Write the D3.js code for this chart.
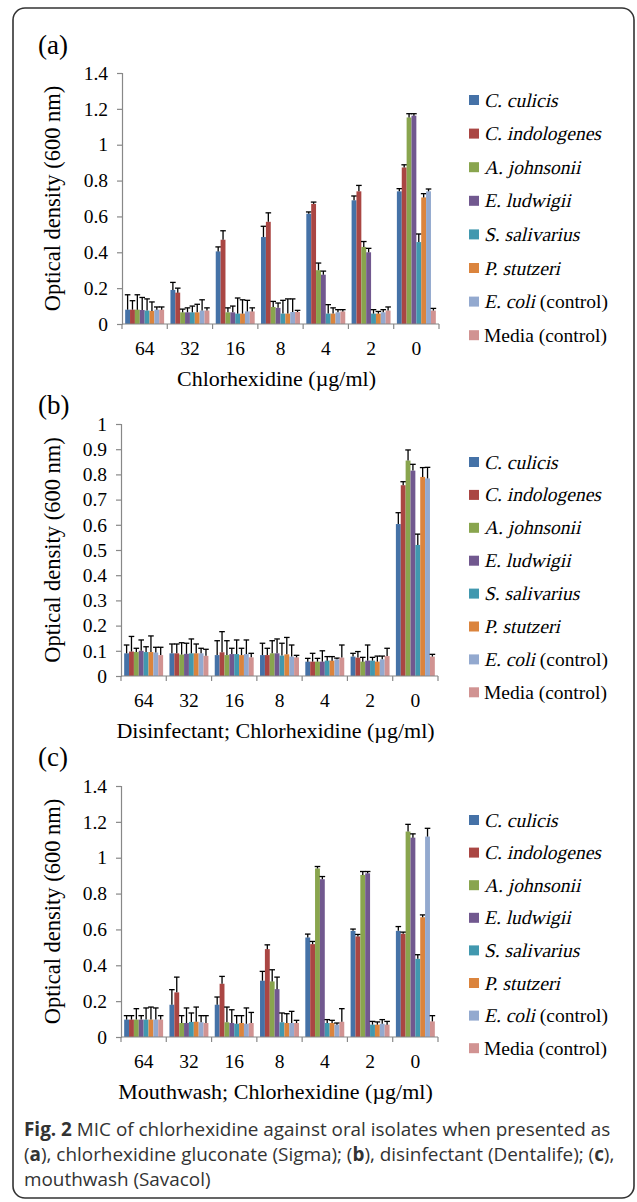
<!DOCTYPE html>
<meta charset="utf-8">
<script src="https://d3js.org/d3.v7.min.js"></script>
<style>
  body { margin: 0; background: #fff; }
  text, tspan { font-family: "Liberation Serif", "Times New Roman", serif; fill: #000; }
  text.cap, text.cap tspan { font-family: "Open Sans", sans-serif; fill: #333; font-size: 18.9px; }
</style>
<div id="fig"></div>
<script>

var categories = ["64", "32", "16", "8", "4", "2", "0"]
var series = ["C. culicis", "C. indologenes", "A. johnsonii", "E. ludwigii", "S. salivarius", "P. stutzeri", "E. coli", "Media"]
var colors = ["#4572A7", "#AA4643", "#89A54E", "#71588F", "#4198AF", "#DB843D", "#93A9CF", "#D19392"]

// (a) chlorhexidine gluconate
var valuesA = [
  [0.08, 0.19, 0.405, 0.485, 0.615, 0.69, 0.74],
  [0.08, 0.175, 0.47, 0.57, 0.67, 0.74, 0.873],
  [0.08, 0.065, 0.065, 0.095, 0.3, 0.43, 1.152],
  [0.078, 0.065, 0.065, 0.09, 0.275, 0.4, 1.162],
  [0.075, 0.065, 0.058, 0.058, 0.058, 0.058, 0.457],
  [0.073, 0.065, 0.058, 0.058, 0.058, 0.058, 0.706],
  [0.08, 0.075, 0.07, 0.067, 0.065, 0.065, 0.74],
  [0.08, 0.075, 0.07, 0.067, 0.07, 0.075, 0.075]
]
var errorsA = [
  [0.083, 0.042, 0.025, 0.06, 0.01, 0.024, 0.015],
  [0.05, 0.025, 0.05, 0.05, 0.01, 0.033, 0.015],
  [0.083, 0.018, 0.025, 0.031, 0.04, 0.03, 0.021],
  [0.07, 0.025, 0.035, 0.027, 0.02, 0.022, 0.011],
  [0.065, 0.035, 0.087, 0.074, 0.05, 0.022, 0.045],
  [0.05, 0.045, 0.077, 0.082, 0.032, 0.012, 0.021],
  [0.015, 0.06, 0.062, 0.073, 0.015, 0.015, 0.013],
  [0.015, 0.015, 0.02, 0.009, 0.01, 0.02, 0.012]
]

// (b) disinfectant
var valuesB = [
  [0.09, 0.09, 0.083, 0.083, 0.057, 0.077, 0.603],
  [0.097, 0.09, 0.094, 0.083, 0.057, 0.073, 0.757],
  [0.095, 0.085, 0.083, 0.09, 0.057, 0.057, 0.855],
  [0.1, 0.088, 0.087, 0.09, 0.057, 0.061, 0.815],
  [0.095, 0.09, 0.087, 0.081, 0.061, 0.061, 0.52],
  [0.095, 0.09, 0.083, 0.086, 0.061, 0.057, 0.79],
  [0.093, 0.09, 0.087, 0.077, 0.066, 0.066, 0.784],
  [0.083, 0.08, 0.074, 0.074, 0.073, 0.079, 0.077]
]
var errorsB = [
  [0.033, 0.037, 0.057, 0.047, 0.013, 0.013, 0.045],
  [0.06, 0.037, 0.082, 0.027, 0.033, 0.024, 0.014],
  [0.015, 0.047, 0.057, 0.05, 0.013, 0.017, 0.042],
  [0.043, 0.042, 0.023, 0.057, 0.043, 0.062, 0.025],
  [0.021, 0.057, 0.056, 0.049, 0.016, 0.013, 0.043],
  [0.064, 0.037, 0.027, 0.067, 0.016, 0.022, 0.037],
  [0.021, 0.02, 0.056, 0.046, 0.005, 0.013, 0.044],
  [0.031, 0.026, 0.016, 0.008, 0.05, 0.031, 0.009]
]

// (c) mouthwash
var valuesC = [
  [0.097, 0.18, 0.18, 0.314, 0.555, 0.592, 0.592],
  [0.097, 0.249, 0.297, 0.49, 0.518, 0.561, 0.576],
  [0.097, 0.078, 0.082, 0.31, 0.94, 0.904, 1.146],
  [0.097, 0.078, 0.078, 0.267, 0.88, 0.913, 1.112],
  [0.097, 0.084, 0.074, 0.082, 0.078, 0.069, 0.436],
  [0.097, 0.085, 0.078, 0.078, 0.078, 0.069, 0.668],
  [0.097, 0.082, 0.074, 0.078, 0.069, 0.074, 1.118],
  [0.097, 0.078, 0.078, 0.078, 0.085, 0.069, 0.087]
]
var errorsC = [
  [0.022, 0.084, 0.043, 0.052, 0.019, 0.01, 0.024],
  [0.022, 0.085, 0.041, 0.024, 0.015, 0.011, 0.009],
  [0.061, 0.041, 0.085, 0.065, 0.011, 0.019, 0.04],
  [0.022, 0.084, 0.074, 0.067, 0.015, 0.01, 0.021],
  [0.065, 0.05, 0.045, 0.052, 0.019, 0.018, 0.023],
  [0.07, 0.082, 0.041, 0.052, 0.015, 0.015, 0.013],
  [0.065, 0.037, 0.088, 0.065, 0.009, 0.023, 0.046],
  [0.022, 0.041, 0.059, 0.015, 0.073, 0.018, 0.032]
]

var ticksA = [0, 0.2, 0.4, 0.6, 0.8, 1, 1.2, 1.4]
var ticksB = [0, 0.1, 0.2, 0.3, 0.4, 0.5, 0.6, 0.7, 0.8, 0.9, 1]

var W = 637, H = 1202

var svg = d3.select("#fig").append("svg")
  .attr("width", W).attr("height", H)

// outer frame
svg.append("rect")
  .attr("x", 13).attr("y", 8).attr("width", 621).attr("height", 1190)
  .attr("rx", 12).attr("ry", 12)
  .attr("fill", "none").attr("stroke", "#333").attr("stroke-width", 1.6)

var panels = [
  { label: "(a)", values: valuesA, errors: errorsA, max: 1.4, ticks: ticksA,
    top: 73, bottom: 324, left: 122, right: 439, labelY: 54,
    xtitle: "Chlorhexidine (µg/ml)", legendY: 100, legendStep: 33.6 },
  { label: "(b)", values: valuesB, errors: errorsB, max: 1, ticks: ticksB,
    top: 424, bottom: 676, left: 121, right: 438, labelY: 414,
    xtitle: "Disinfectant; Chlorhexidine (µg/ml)", legendY: 462, legendStep: 32.9 },
  { label: "(c)", values: valuesC, errors: errorsC, max: 1.4, ticks: ticksA,
    top: 786, bottom: 1037, left: 121, right: 438, labelY: 766,
    xtitle: "Mouthwash; Chlorhexidine (µg/ml)", legendY: 820, legendStep: 32.6 }
]

panels.forEach(function(p) {
  var g = svg.append("g")

  var y = d3.scaleLinear().domain([0, p.max]).range([p.bottom, p.top])
  var x0 = d3.scaleBand().domain(categories).range([p.left, p.right]).padding(0)
  var bw = x0.bandwidth()
  var x1 = d3.scaleBand().domain(d3.range(series.length))
    .range([bw * 0.07, bw * 0.93]).padding(0)

  g.append("text").attr("x", 38).attr("y", p.labelY)
    .style("font-size", "27px").text(p.label)

  // y axis
  var ya = g.append("g").attr("transform", "translate(" + p.left + ",0)")
    .call(d3.axisLeft(y).tickValues(p.ticks).tickSize(5).tickPadding(9)
      .tickFormat(function(d) { return d3.format("")(+d.toFixed(2)) }))
  ya.select(".domain").attr("stroke", "#888").attr("stroke-width", 1.2)
  ya.selectAll(".tick line").attr("stroke", "#888").attr("stroke-width", 1.2)
  ya.selectAll(".tick text").style("font-size", "19.5px")
    .style("font-family", "Liberation Serif").attr("fill", "#000")

  g.append("text")
    .attr("transform", "translate(60," + ((p.top + p.bottom) / 2) + ") rotate(-90)")
    .attr("text-anchor", "middle").style("font-size", "22.5px")
    .text("Optical density (600 nm)")

  // bars
  series.forEach(function(s, i) {
    var sg = g.append("g")
    sg.selectAll("rect").data(categories).enter().append("rect")
      .attr("x", function(c) { return x0(c) + x1(i) })
      .attr("y", function(c, j) { return y(p.values[i][j]) })
      .attr("width", x1.bandwidth())
      .attr("height", function(c, j) { return p.bottom - y(p.values[i][j]) })
      .attr("fill", colors[i])

    var eg = g.append("g").attr("stroke", "#000").attr("stroke-width", 1.3)
    eg.selectAll("line.v").data(categories).enter().append("line")
      .attr("x1", function(c) { return x0(c) + x1(i) + x1.bandwidth() / 2 })
      .attr("x2", function(c) { return x0(c) + x1(i) + x1.bandwidth() / 2 })
      .attr("y1", function(c, j) { return y(p.values[i][j]) })
      .attr("y2", function(c, j) { return y(p.values[i][j] + p.errors[i][j]) })
    eg.selectAll("line.h").data(categories).enter().append("line")
      .attr("x1", function(c) { return x0(c) + x1(i) + x1.bandwidth() / 2 - 2.8 })
      .attr("x2", function(c) { return x0(c) + x1(i) + x1.bandwidth() / 2 + 2.8 })
      .attr("y1", function(c, j) { return y(p.values[i][j] + p.errors[i][j]) })
      .attr("y2", function(c, j) { return y(p.values[i][j] + p.errors[i][j]) })
  })

  // x axis with ticks between categories
  g.append("line").attr("x1", p.left).attr("x2", p.right)
    .attr("y1", p.bottom).attr("y2", p.bottom)
    .attr("stroke", "#888").attr("stroke-width", 1.2)
  g.selectAll("line.xt").data(d3.range(categories.length + 1)).enter().append("line")
    .attr("x1", function(k) { return p.left + k * bw })
    .attr("x2", function(k) { return p.left + k * bw })
    .attr("y1", p.bottom).attr("y2", p.bottom + 5)
    .attr("stroke", "#888").attr("stroke-width", 1.2)
  g.selectAll("text.xl").data(categories).enter().append("text")
    .attr("x", function(c) { return x0(c) + bw / 2 })
    .attr("y", p.bottom + 31)
    .attr("text-anchor", "middle").style("font-size", "19.5px")
    .text(function(c) { return c })

  g.append("text").attr("x", (p.left + p.right) / 2 - 4).attr("y", p.bottom + 62)
    .attr("text-anchor", "middle").style("font-size", "22px")
    .text(p.xtitle)

  // legend (italic drawn as slanted serif text)
  var lg = g.selectAll("g.leg").data(series).enter().append("g")
    .attr("transform", function(s, i) { return "translate(469," + (p.legendY + i * p.legendStep) + ")" })
  lg.append("rect").attr("x", 0).attr("y", -5).attr("width", 10).attr("height", 10)
    .attr("fill", function(s, i) { return colors[i] })
  lg.each(function(s) {
    var t = d3.select(this)
    if (s === "Media") {
      t.append("text").attr("x", 15).attr("y", 6.5).style("font-size", "19.5px")
        .text("Media (control)")
      return
    }
    var it = t.append("text").attr("transform", "translate(15,6.5) skewX(-13)")
      .style("font-size", "19.5px").text(s)
    if (s === "E. coli") {
      var w = it.node().getComputedTextLength()
      t.append("text").attr("x", 15 + w).attr("y", 6.5).style("font-size", "19.5px")
        .text(" (control)").attr("xml:space", "preserve").style("white-space", "pre")
    }
  })
})

// caption
var cap = svg.append("g")
var l1 = cap.append("text").attr("class", "cap").attr("x", 24).attr("y", 1136)
l1.append("tspan").style("font-weight", "bold").text("Fig. 2")
l1.append("tspan").text(" MIC of chlorhexidine against oral isolates when presented as")
var l2 = cap.append("text").attr("class", "cap").attr("x", 24).attr("y", 1161)
l2.append("tspan").text("(")
l2.append("tspan").style("font-weight", "bold").text("a")
l2.append("tspan").text("), chlorhexidine gluconate (Sigma); (")
l2.append("tspan").style("font-weight", "bold").text("b")
l2.append("tspan").text("), disinfectant (Dentalife); (")
l2.append("tspan").style("font-weight", "bold").text("c")
l2.append("tspan").text("),")
cap.append("text").attr("class", "cap").attr("x", 24).attr("y", 1186)
  .text("mouthwash (Savacol)")

</script>
